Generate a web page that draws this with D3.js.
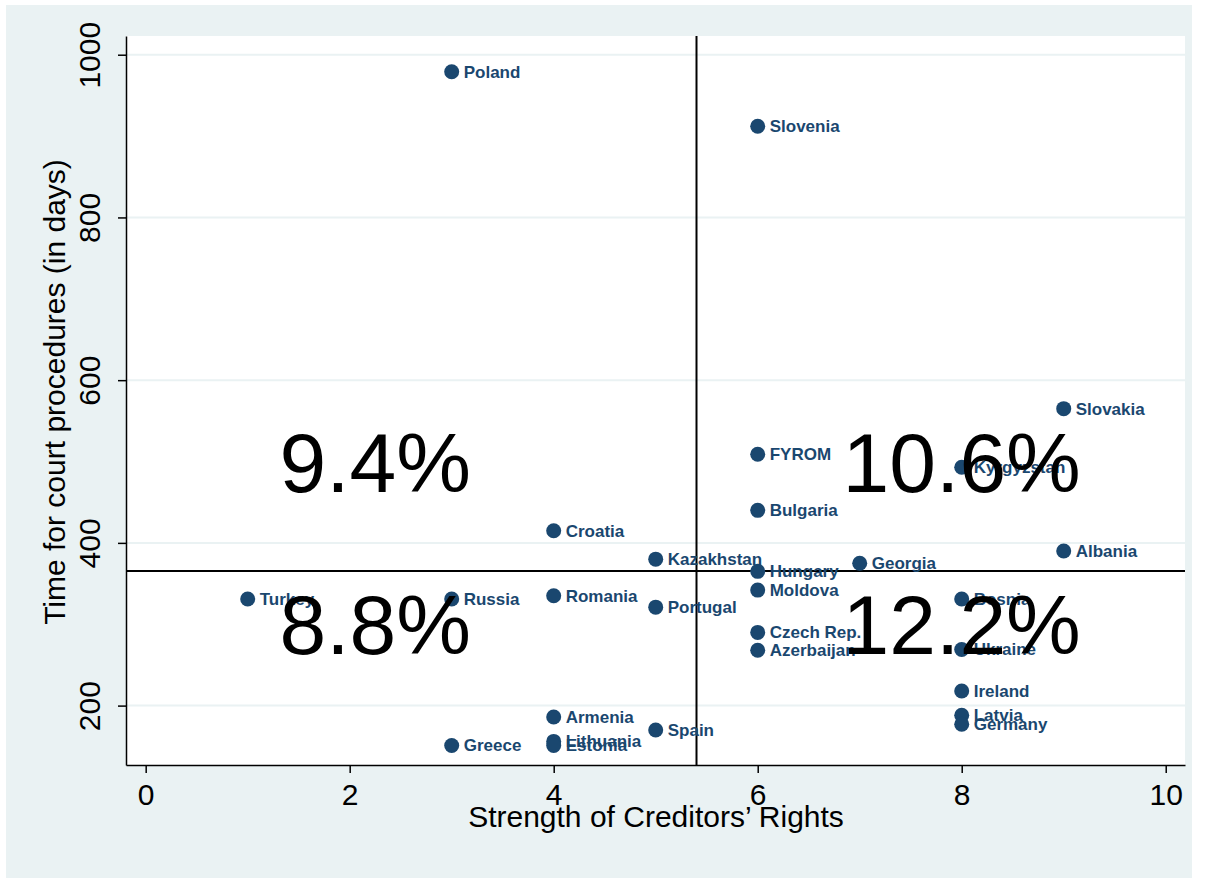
<!DOCTYPE html>
<html>
<head>
<meta charset="utf-8">
<script src="https://cdn.jsdelivr.net/npm/d3@7"></script>
<style>
  html, body { margin: 0; padding: 0; background: #ffffff; }
  svg { display: block; }
  text { font-family: "Liberation Sans", Arial, Helvetica, sans-serif; }
</style>
</head>
<body>
<svg id="chart" width="1207" height="883"></svg>
<script>
// Countries, creditor-rights index and court procedure time (days)
const countries = ["Poland","Slovenia","Slovakia","FYROM","Kyrgyzstan","Bulgaria","Croatia","Albania",
  "Kazakhstan","Georgia","Hungary","Turkey","Russia","Romania","Bosnia","Moldova","Portugal",
  "Czech Rep.","Azerbaijan","Ukraine","Ireland","Latvia","Germany","Armenia","Spain","Lithuania",
  "Estonia","Greece"];
const creditorRights = [3,6,9,6,8,6,4,9,5,7,6,1,3,4,8,6,5,6,6,8,8,8,8,4,5,4,4,3];
const courtDays = [979,912,565,509,493,440,415,390,380,375,365,331,331,335,331,342,321,
  290,268,269,218,188,177,186,170,156,151,151];

// Cut-off lines splitting the plot into quadrants
const xCut = 5.4;
const yCut = 365.4;

// Quadrant annotations
const quadrantText = ["9.4%","10.6%","8.8%","12.2%"];
const quadrantX = [2.25, 8.0, 2.25, 8.0];
const quadrantY = [500, 500, 300, 300];

const xTicks = [0,2,4,6,8,10];
const yTicks = [200,400,600,800,1000];

const xTitle = "Strength of Creditors\u2019 Rights";
const yTitle = "Time for court procedures (in days)";

const plot = { left: 126, right: 1185, top: 36, bottom: 765 };
const navy = "#1a476f";
const bg = "#eaf2f3";

const svg = d3.select("#chart");

// Outer graph region
svg.append("rect").attr("x", 6).attr("y", 5).attr("width", 1186).attr("height", 873).attr("fill", bg);
// Plot region
svg.append("rect").attr("x", plot.left).attr("y", plot.top)
  .attr("width", plot.right - plot.left).attr("height", plot.bottom - plot.top).attr("fill", "#ffffff");

const x = d3.scaleLinear().domain([-0.193, 10.189]).range([plot.left, plot.right]);
const y = d3.scaleLinear().domain([127, 1023]).range([plot.bottom, plot.top]);

// Horizontal grid lines
svg.append("g").selectAll("line").data(yTicks).join("line")
  .attr("x1", plot.left).attr("x2", plot.right)
  .attr("y1", d => y(d)).attr("y2", d => y(d))
  .attr("stroke", bg).attr("stroke-width", 2);

// Y axis
const yAxis = svg.append("g").attr("transform", `translate(${plot.left},0)`)
  .call(d3.axisLeft(y).tickValues(yTicks).tickFormat(d3.format("d"))
    .tickSize(8).tickSizeOuter(0).tickPadding(0));
yAxis.select(".domain").attr("stroke", "#000").attr("stroke-width", 1.5);
yAxis.selectAll(".tick line").attr("stroke", "#000").attr("stroke-width", 1.5);
yAxis.selectAll(".tick text")
  .attr("transform", "rotate(-90)")
  .attr("x", 0).attr("y", -26).attr("dy", 0)
  .attr("text-anchor", "middle")
  .attr("font-size", 30).attr("fill", "#000")
  .style("font-family", "'Liberation Sans', Arial, sans-serif");

// X axis
const xAxis = svg.append("g").attr("transform", `translate(0,${plot.bottom})`)
  .call(d3.axisBottom(x).tickValues(xTicks).tickFormat(d3.format("d"))
    .tickSize(8).tickSizeOuter(0).tickPadding(0));
xAxis.select(".domain").attr("stroke", "#000").attr("stroke-width", 1.5);
xAxis.selectAll(".tick line").attr("stroke", "#000").attr("stroke-width", 1.5);
xAxis.selectAll(".tick text")
  .attr("y", 40).attr("dy", 0)
  .attr("font-size", 30).attr("fill", "#000")
  .style("font-family", "'Liberation Sans', Arial, sans-serif");

// Axis titles
svg.append("text").attr("x", 656).attr("y", 827)
  .attr("text-anchor", "middle").attr("font-size", 30).attr("fill", "#000").text(xTitle);
svg.append("text").attr("transform", "translate(65,392) rotate(-90)")
  .attr("text-anchor", "middle").attr("font-size", 30).attr("fill", "#000").text(yTitle);

// Quadrant reference lines
svg.append("line").attr("x1", plot.left).attr("x2", plot.right)
  .attr("y1", y(yCut)).attr("y2", y(yCut)).attr("stroke", "#000").attr("stroke-width", 2);
svg.append("line").attr("x1", x(xCut)).attr("x2", x(xCut))
  .attr("y1", plot.top).attr("y2", plot.bottom).attr("stroke", "#000").attr("stroke-width", 2);

// Points and country labels
const pts = countries.map((c, i) => ({ name: c, cr: creditorRights[i], days: courtDays[i] }));
const pg = svg.append("g");
pg.selectAll("circle").data(pts).join("circle")
  .attr("cx", d => x(d.cr)).attr("cy", d => y(d.days)).attr("r", 7.5).attr("fill", navy);
pg.selectAll("text").data(pts).join("text")
  .attr("x", d => x(d.cr) + 12).attr("y", d => y(d.days) + 6)
  .attr("font-size", 17).attr("font-weight", "bold").attr("fill", navy)
  .text(d => d.name);

// Quadrant percentages
svg.append("g").selectAll("text").data(quadrantText).join("text")
  .attr("x", (d, i) => x(quadrantX[i]))
  .attr("y", (d, i) => y(quadrantY[i]) + 30)
  .attr("text-anchor", "middle").attr("font-size", 84).attr("fill", "#000")
  .text(d => d);
</script>
</body>
</html>
